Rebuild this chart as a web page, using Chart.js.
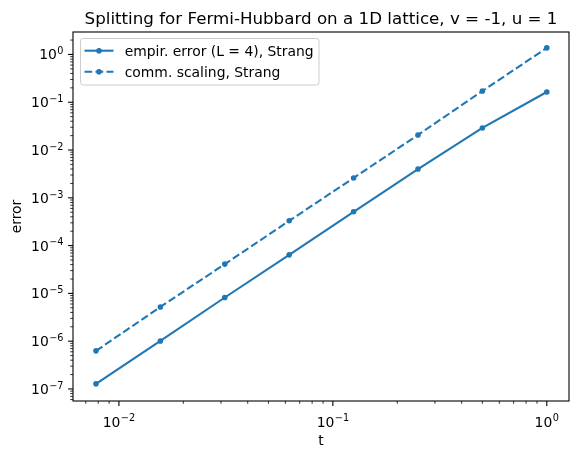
<!DOCTYPE html>
<html>
<head>
<meta charset="utf-8">
<script src="https://cdn.jsdelivr.net/npm/chart.js@4/dist/chart.umd.min.js"></script>
<style>
  html, body { margin: 0; padding: 0; background: #fff; }
  #wrap { width: 578px; height: 459px; }
</style>
</head>
<body>
<div id="wrap"><canvas id="chart" width="578" height="459"></canvas></div>
<script>
const tValues = [1/128, 1/64, 1/32, 1/16, 1/8, 1/4, 1/2, 1];
const empirError = [1.28e-7, 1.01e-6, 8.2e-6, 6.4e-5, 5.1e-4, 4.0e-3, 2.9e-2, 1.64e-1];
const commScaling = [6.27e-7, 5.2e-6, 4.1e-5, 3.3e-4, 2.6e-3, 2.07e-2, 1.72e-1, 1.37];
const seriesNames = ["empir. error (L = 4), Strang", "comm. scaling, Strang"];
const xDecades = [-2, -1, 0];
const yDecades = [-7, -6, -5, -4, -3, -2, -1, 0];

const BLUE = "#1f77b4";
const FONT = "DejaVu Sans, Liberation Sans, sans-serif";
const DASH = [7.7, 3.3];

function makePoints(ys) {
  return tValues.map((t, i) => ({ x: t, y: ys[i] }));
}

// draws "10" with a raised exponent, like matplotlib mathtext
function drawPow(ctx, exp, x, baseY, align) {
  const base = "10";
  const sup = (exp < 0 ? "\u2212" : "") + Math.abs(exp);
  ctx.font = "13.9px " + FONT;
  const wb = ctx.measureText(base).width;
  ctx.font = "9.7px " + FONT;
  const ws = ctx.measureText(sup).width;
  const total = wb + ws + 0.5;
  let x0 = align === "right" ? x - total : x - total / 2;
  ctx.textAlign = "left";
  ctx.textBaseline = "alphabetic";
  ctx.fillStyle = "#000";
  ctx.font = "13.9px " + FONT;
  ctx.fillText(base, x0, baseY);
  ctx.font = "9.7px " + FONT;
  ctx.fillText(sup, x0 + wb + 0.5, baseY - 5.2);
}

const decor = {
  id: "decor",
  afterDraw(chart) {
    const ctx = chart.ctx;
    const a = chart.chartArea;
    const xs = chart.scales.x, ys = chart.scales.y;
    ctx.save();

    // spines
    ctx.strokeStyle = "#000";
    ctx.lineWidth = 1.1;
    ctx.strokeRect(a.left, a.top, a.right - a.left, a.bottom - a.top);

    // x ticks
    for (let d = -3; d <= 0; d++) {
      for (let m = 1; m <= 9; m++) {
        const v = m * Math.pow(10, d);
        if (v < xs.min || v > xs.max) continue;
        const px = xs.getPixelForValue(v);
        const major = m === 1;
        ctx.lineWidth = major ? 1.1 : 0.8;
        ctx.beginPath();
        ctx.moveTo(px, a.bottom);
        ctx.lineTo(px, a.bottom + (major ? 4.9 : 2.8));
        ctx.stroke();
      }
    }
    xDecades.forEach(d => {
      drawPow(ctx, d, xs.getPixelForValue(Math.pow(10, d)), 426.5, "center");
    });

    // y ticks
    for (let d = -8; d <= 0; d++) {
      for (let m = 1; m <= 9; m++) {
        const v = m * Math.pow(10, d);
        if (v < ys.min || v > ys.max) continue;
        const py = ys.getPixelForValue(v);
        const major = m === 1;
        ctx.lineWidth = major ? 1.1 : 0.8;
        ctx.beginPath();
        ctx.moveTo(a.left, py);
        ctx.lineTo(a.left - (major ? 4.9 : 2.8), py);
        ctx.stroke();
      }
    }
    yDecades.forEach(d => {
      drawPow(ctx, d, 63.5, ys.getPixelForValue(Math.pow(10, d)) + 5, "right");
    });

    // title and axis labels
    const cx = (a.left + a.right) / 2;
    ctx.fillStyle = "#000";
    ctx.textAlign = "center";
    ctx.textBaseline = "alphabetic";
    ctx.font = "16.7px " + FONT;
    ctx.fillText("Splitting for Fermi-Hubbard on a 1D lattice, v = -1, u = 1", cx, 24);
    ctx.font = "13.9px " + FONT;
    ctx.textBaseline = "middle";
    ctx.fillText("t", cx, 441);
    ctx.save();
    ctx.translate(17, (a.top + a.bottom) / 2);
    ctx.rotate(-Math.PI / 2);
    ctx.fillText("error", 0, 0);
    ctx.restore();

    // legend
    const lx = 80.5, ly = 38.5, lw = 238.5, lh = 46.5, r = 2.8;
    ctx.beginPath();
    ctx.roundRect(lx, ly, lw, lh, r);
    ctx.fillStyle = "rgba(255,255,255,0.8)";
    ctx.fill();
    ctx.strokeStyle = "#cccccc";
    ctx.lineWidth = 1;
    ctx.stroke();

    const rows = [50.7, 71.7];
    rows.forEach((ry, i) => {
      ctx.strokeStyle = BLUE;
      ctx.lineWidth = 2.08;
      ctx.setLineDash(i === 1 ? DASH : []);
      ctx.beginPath();
      ctx.moveTo(84.5, ry);
      ctx.lineTo(113.5, ry);
      ctx.stroke();
      ctx.setLineDash([]);
      ctx.fillStyle = BLUE;
      ctx.beginPath();
      ctx.arc(99, ry, 2.8, 0, Math.PI * 2);
      ctx.fill();
      ctx.fillStyle = "#000";
      ctx.font = "13.9px " + FONT;
      ctx.textAlign = "left";
      ctx.textBaseline = "alphabetic";
      ctx.fillText(seriesNames[i], 124.7, ry + 5.5);
    });

    ctx.restore();
  }
};

new Chart(document.getElementById("chart"), {
  type: "line",
  data: {
    datasets: [
      {
        label: seriesNames[0],
        data: makePoints(empirError),
        borderColor: BLUE,
        backgroundColor: BLUE,
        borderWidth: 2.08,
        pointRadius: 2.1,
        pointBorderWidth: 1.4,
        pointBackgroundColor: BLUE,
        pointBorderColor: BLUE,
        tension: 0
      },
      {
        label: seriesNames[1],
        data: makePoints(commScaling),
        borderColor: BLUE,
        backgroundColor: BLUE,
        borderWidth: 2.08,
        borderDash: DASH,
        pointRadius: 2.1,
        pointBorderWidth: 1.4,
        pointBackgroundColor: BLUE,
        pointBorderColor: BLUE,
        tension: 0
      }
    ]
  },
  options: {
    responsive: false,
    animation: false,
    events: [],
    layout: { padding: { top: 32, right: 9, left: 0, bottom: 0 } },
    plugins: {
      legend: { display: false },
      title: { display: false },
      tooltip: { enabled: false }
    },
    scales: {
      x: {
        type: "logarithmic",
        min: 0.0061,
        max: 1.27,
        grid: { display: false },
        border: { display: false },
        ticks: { display: false },
        afterFit(s) { s.height = 58; }
      },
      y: {
        type: "logarithmic",
        min: 5.6e-8,
        max: 2.95,
        grid: { display: false },
        border: { display: false },
        ticks: { display: false },
        afterFit(s) { s.width = 73; }
      }
    }
  },
  plugins: [decor]
});
</script>
</body>
</html>
